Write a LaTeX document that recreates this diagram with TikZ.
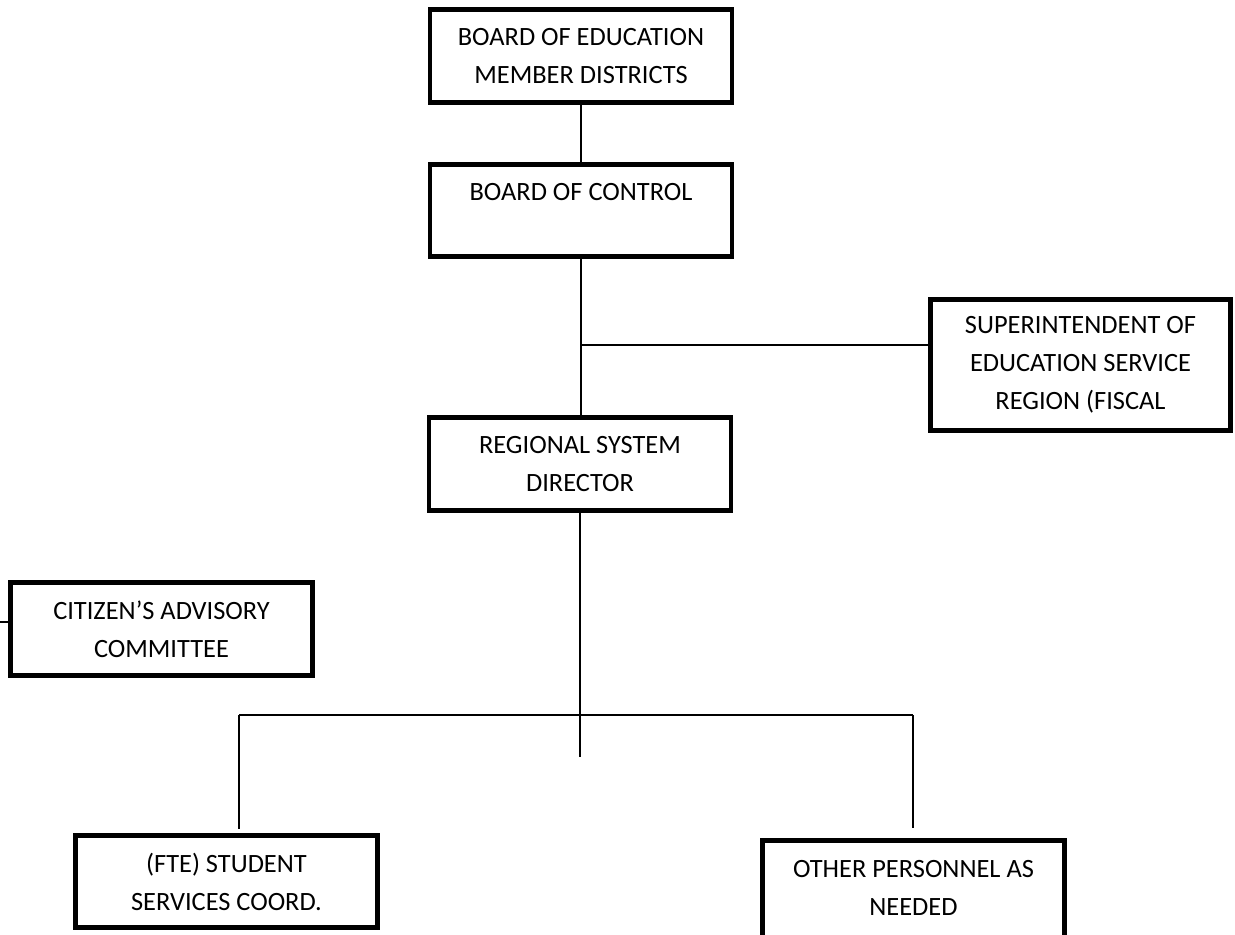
\documentclass[tikz,border=0pt]{standalone}
\usepackage{fontspec}
\setmainfont{Carlito}

\begin{document}
\begin{tikzpicture}[x=0.5pt,y=-0.5pt]
\tikzset{orgbox/.style={draw,rectangle,line width=2.4pt,align=center,inner sep=0pt,
  minimum width=151pt,minimum height=46.5pt,font=\fontsize{13.2}{19}\selectfont}}
\tikzset{link/.style={line width=0.8pt}}

\useasboundingbox (0,0) rectangle (1235,934);

\node[orgbox] (bod) at (581,56) {BOARD OF EDUCATION\\MEMBER DISTRICTS};
\node[orgbox,minimum height=46pt] (boc) at (581,210.5) {BOARD OF CONTROL\\\mbox{}};
\node[orgbox,minimum width=150pt,minimum height=65.5pt] (sup) at (1080.5,365) {SUPERINTENDENT OF\\EDUCATION SERVICE\\REGION (FISCAL};
\node[orgbox] (rsd) at (580,464) {REGIONAL SYSTEM\\DIRECTOR};
\node[orgbox] (cac) at (161.5,629) {CITIZEN'S ADVISORY\\COMMITTEE};
\node[orgbox,minimum height=46pt] (fte) at (226.5,881.5) {(FTE) STUDENT\\SERVICES COORD.};
% bottom edge runs off the page
\node[orgbox,minimum height=52pt] (oth) at (913.5,892.5) {OTHER PERSONNEL AS\\NEEDED\\[-14pt]\mbox{}};

\coordinate (branch) at (581,345);
\coordinate (stem) at (580,757);
\coordinate (barL) at (239,715);
\coordinate (barR) at (913,715);
\coordinate (fteTop) at (239,829);
\coordinate (othTop) at (913,828);
\coordinate (cacStub) at (0,622);

\draw[link] (bod) -- (boc);
\draw[link] (boc.south) -- (boc.south |- rsd.north);
\draw[link] (branch) -- (branch -| sup.west);
\draw[link] (rsd.south) -- (stem);
\draw[link] (barL) -- (barR);
\draw[link] (barL) -- (fteTop);
\draw[link] (barR) -- (othTop);
\draw[link] (cacStub) -- (cacStub -| cac.west);

\end{tikzpicture}
\end{document}
